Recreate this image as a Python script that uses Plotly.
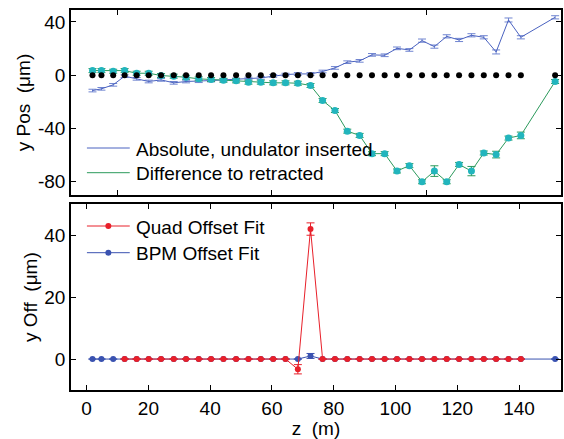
import plotly.graph_objects as go

# ---- data ----
z = [1.9, 4.8, 8.6, 12.3, 16.2, 20.1, 24.1, 28.2, 32.2, 36.3, 40.3, 44.3, 48.4,
     52.4, 56.4, 60.4, 64.4, 68.4, 72.5, 76.4, 80.4, 84.4, 88.4, 92.4, 96.5,
     100.5, 104.5, 108.6, 112.6, 116.6, 120.6, 124.6, 128.6, 132.6, 136.6,
     140.6, 151.7]

abs_pos = [-11.5, -10.2, -7.2, -0.7, -2.7, -4.7, -3.5, -5.7, -4.7, -4.5, -4.0,
           -3.5, -3.2, -2.5, -2.0, -0.5, 0.5, 1.0, 1.0, 2.8, 5.5, 9.8, 10.8,
           15.3, 15.0, 20.2, 19.0, 26.0, 21.5, 29.2, 26.5, 30.0, 28.5, 17.5,
           41.5, 28.5, 43.5]
abs_err = [1.0, 1.0, 1.0, 1.0, 1.0, 1.0, 1.0, 1.0, 1.0, 1.0, 1.0, 1.0, 1.0,
           1.0, 1.0, 1.0, 1.0, 1.0, 1.0, 1.0, 1.0, 1.0, 1.0, 1.0, 1.0, 1.0,
           1.0, 1.2, 1.2, 1.2, 1.2, 1.2, 1.2, 1.5, 1.5, 1.2, 1.2]

diff_pos = [3.5, 3.5, 3.0, 3.5, 1.5, 1.5, -0.2, -0.7, -1.5, -2.7, -3.2, -3.8,
            -4.2, -5.2, -5.2, -5.7, -5.7, -6.0, -7.7, -19.0, -26.5, -42.0,
            -45.2, -58.9, -58.9, -71.9, -67.9, -80.0, -72.0, -80.0, -67.0,
            -72.0, -58.4, -59.6, -47.2, -45.2, -4.7]
diff_err = [1.5, 1.5, 1.5, 1.5, 1.5, 1.5, 1.5, 1.5, 1.5, 1.5, 1.5, 1.5, 1.5,
            1.5, 1.5, 1.5, 1.5, 1.5, 1.5, 1.5, 1.5, 1.5, 1.5, 1.5, 1.5, 1.5,
            1.5, 1.5, 4.0, 1.5, 1.5, 3.5, 1.5, 2.5, 1.5, 2.5, 1.5]

ref_zero = [0.0] * len(z)

quad_z = z[3:36]
quad_off = [0.0] * 14 + [-3.3, 42.0] + [0.0] * 17
quad_err = [0.0] * 14 + [1.5, 2.0] + [0.0] * 17

bpm_off = [0.0] * 18 + [1.0] + [0.0] * 18
bpm_err = [0.0] * 18 + [0.8] + [0.0] * 18

top_ticks = [10, 60, 110]
top_yticks = [-80, -40, 0, 40]
top_yticklabels = ["-80", "-40", "0", "40"]
bot_xticks = [0, 20, 40, 60, 80, 100, 120, 140]
bot_yticks = [0, 20, 40]

legend_top = ["Absolute, undulator inserted", "Difference to retracted"]
legend_bot = ["Quad Offset Fit", "BPM Offset Fit"]

# ---- styling ----
FONT = "Liberation Sans, Arial, Helvetica, sans-serif"
BLUE_ABS = "#4a62c0"
GREEN = "#2c9a5c"
CYAN = "#22b5bd"
RED = "#e8202a"
BLUE_BPM = "#3a52b0"

fig = go.Figure()

# top panel
fig.add_trace(go.Scatter(
    x=z, y=abs_pos, mode="lines", name=legend_top[0], showlegend=False,
    line=dict(color=BLUE_ABS, width=1),
    error_y=dict(type="data", array=abs_err, color="#6f84d0", thickness=1, width=4),
    xaxis="x2", yaxis="y2"))
fig.add_trace(go.Scatter(
    x=z, y=diff_pos, mode="lines+markers", name=legend_top[1], showlegend=False,
    line=dict(color=GREEN, width=1),
    marker=dict(color=CYAN, size=7),
    error_y=dict(type="data", array=diff_err, color=GREEN, thickness=1, width=4),
    xaxis="x2", yaxis="y2"))
fig.add_trace(go.Scatter(
    x=z, y=ref_zero, mode="markers", showlegend=False,
    marker=dict(color="black", size=6),
    xaxis="x2", yaxis="y2"))

# bottom panel (blue first so red is drawn on top)
fig.add_trace(go.Scatter(
    x=z, y=bpm_off, mode="lines+markers", name=legend_bot[1], showlegend=False,
    line=dict(color=BLUE_BPM, width=1), marker=dict(color=BLUE_BPM, size=6),
    error_y=dict(type="data", array=bpm_err, color=BLUE_BPM, thickness=1, width=4),
    xaxis="x", yaxis="y"))
fig.add_trace(go.Scatter(
    x=quad_z, y=quad_off, mode="lines+markers", name=legend_bot[0], showlegend=False,
    line=dict(color=RED, width=1), marker=dict(color=RED, size=6),
    error_y=dict(type="data", array=quad_err, color=RED, thickness=1, width=4),
    xaxis="x", yaxis="y"))

axis_common = dict(showline=True, linecolor="black", linewidth=1.5, mirror="ticks",
                   ticks="inside", ticklen=5, tickwidth=1, tickcolor="black",
                   showgrid=False, zeroline=False,
                   tickfont=dict(family=FONT, size=19, color="black"))

# ---- manual legends (paper coordinates from pixel positions) ----
L, R, T, B = 71, 563, 10, 390
def px(xp):
    return (xp - L) / (R - L)
def py(yp):
    return (B - yp) / (B - T)

shapes = []
annotations = []
def legend_entry(text, color, ypix, marker=False):
    shapes.append(dict(type="line", xref="paper", yref="paper",
                       x0=px(87), x1=px(130), y0=py(ypix), y1=py(ypix),
                       line=dict(color=color, width=1)))
    if marker:
        shapes.append(dict(type="circle", xref="paper", yref="paper",
                           x0=px(105.5), x1=px(111.5), y0=py(ypix + 3), y1=py(ypix - 3),
                           fillcolor=color, line=dict(color=color, width=0)))
    annotations.append(dict(text=text, xref="paper", yref="paper",
                            x=px(134), y=py(ypix + 1), xanchor="left", yanchor="middle",
                            showarrow=False, font=dict(family=FONT, size=19, color="black")))

legend_entry(legend_top[0], BLUE_ABS, 148)
legend_entry(legend_top[1], GREEN, 172.7)
legend_entry(legend_bot[0], RED, 226, marker=True)
legend_entry(legend_bot[1], BLUE_BPM, 252.7, marker=True)

XR = [-5.06, 153.6]
fig.update_layout(
    width=564, height=439,
    margin=dict(l=L, r=564 - R, t=T, b=439 - B),
    paper_bgcolor="white", plot_bgcolor="white",
    font=dict(family=FONT, size=19, color="black"),
    xaxis=dict(domain=[0, 1], anchor="y", range=XR, tickvals=bot_xticks,
               title=dict(text="z\u00a0 (m)", font=dict(size=19), standoff=4),
               **axis_common),
    yaxis=dict(domain=[0, 0.4887], anchor="x", range=[-10, 50], tickvals=bot_yticks,
               title=dict(text="y Off\u00a0 (μm)", font=dict(size=19), standoff=2),
               **axis_common),
    xaxis2=dict(domain=[0, 1], anchor="y2", range=XR, tickvals=top_ticks,
                showticklabels=False, **axis_common),
    yaxis2=dict(domain=[0.513, 1], anchor="x2", range=[-90, 49], tickvals=top_yticks,
                ticktext=top_yticklabels,
                title=dict(text="y Pos\u00a0 (μm)", font=dict(size=19), standoff=2),
                **axis_common),
    shapes=shapes,
    annotations=annotations,
    showlegend=False,
)

fig.write_html("out.html")
